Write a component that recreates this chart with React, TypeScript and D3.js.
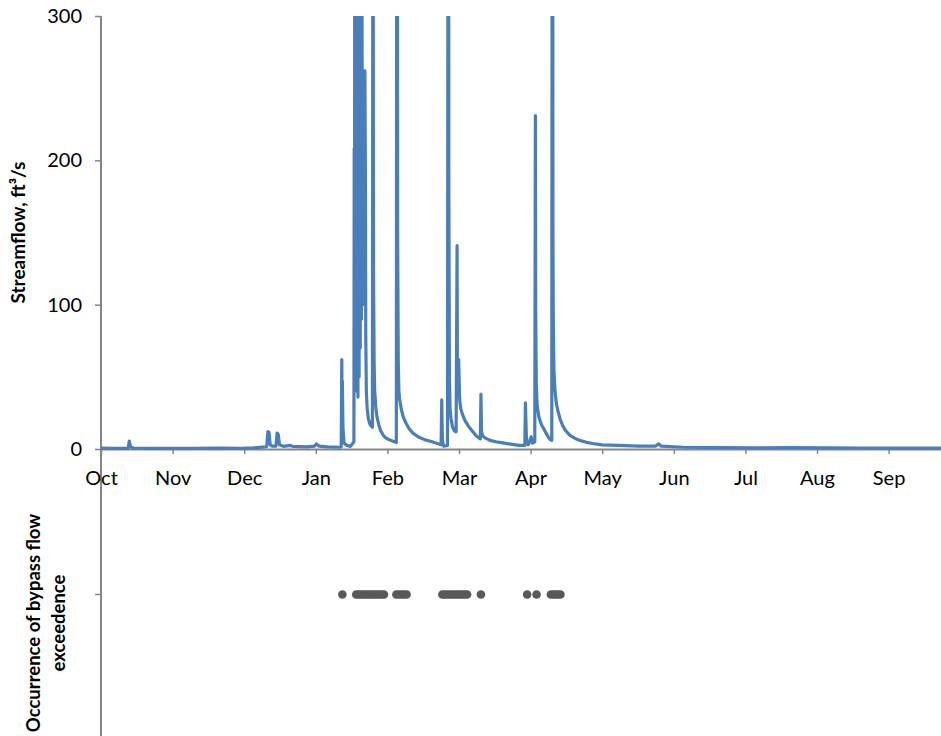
import React, { useEffect, useRef } from 'react';
import * as d3 from 'd3';

// water year Oct 2004 - Sep 2005
const waterYearStart = 2004;
const monthLabels = ['Oct', 'Nov', 'Dec', 'Jan', 'Feb', 'Mar', 'Apr', 'May', 'Jun', 'Jul', 'Aug', 'Sep'];
const flowTicks = [0, 100, 200, 300];

// streamflow, ft3/s (peaks above 300 run off the top of the chart)
const streamflow: [string, number][] = [
    ['2004-10-01 00:00', 0.6],
    ['2004-10-06 00:00', 0.5],
    ['2004-10-12 18:00', 0.5],
    ['2004-10-13 06:00', 5.5],
    ['2004-10-13 18:00', 1.5],
    ['2004-10-15 00:00', 0.7],
    ['2004-10-25 00:00', 0.5],
    ['2004-11-10 00:00', 0.5],
    ['2004-11-20 00:00', 0.7],
    ['2004-11-30 00:00', 0.5],
    ['2004-12-05 00:00', 0.8],
    ['2004-12-10 00:00', 1.5],
    ['2004-12-10 18:00', 1.8],
    ['2004-12-11 06:00', 12],
    ['2004-12-11 18:00', 11.5],
    ['2004-12-12 06:00', 3],
    ['2004-12-13 00:00', 2],
    ['2004-12-14 18:00', 2],
    ['2004-12-15 06:00', 11],
    ['2004-12-15 18:00', 10],
    ['2004-12-16 06:00', 3],
    ['2004-12-18 00:00', 1.8],
    ['2004-12-21 00:00', 2.5],
    ['2004-12-22 00:00', 1.8],
    ['2004-12-28 00:00', 1.5],
    ['2004-12-31 12:00', 2],
    ['2005-01-01 06:00', 3.5],
    ['2005-01-02 12:00', 2],
    ['2005-01-06 00:00', 1.5],
    ['2005-01-11 00:00', 1.2],
    ['2005-01-12 00:00', 1.5],
    ['2005-01-12 06:00', 62],
    ['2005-01-12 09:00', 30],
    ['2005-01-12 12:00', 47],
    ['2005-01-12 18:00', 15],
    ['2005-01-13 06:00', 4],
    ['2005-01-14 12:00', 2.5],
    ['2005-01-16 00:00', 1.8],
    ['2005-01-17 12:00', 5],
    ['2005-01-17 15:00', 208],
    ['2005-01-17 18:00', 60],
    ['2005-01-17 21:00', 400],
    ['2005-01-18 00:00', 120],
    ['2005-01-18 03:00', 700],
    ['2005-01-18 06:00', 45],
    ['2005-01-18 09:00', 600],
    ['2005-01-18 12:00', 80],
    ['2005-01-18 15:00', 900],
    ['2005-01-18 18:00', 40],
    ['2005-01-18 21:00', 500],
    ['2005-01-19 00:00', 60],
    ['2005-01-19 03:00', 800],
    ['2005-01-19 06:00', 36],
    ['2005-01-19 09:00', 650],
    ['2005-01-19 12:00', 90],
    ['2005-01-19 15:00', 700],
    ['2005-01-19 18:00', 50],
    ['2005-01-19 21:00', 540],
    ['2005-01-20 00:00', 120],
    ['2005-01-20 03:00', 600],
    ['2005-01-20 06:00', 70],
    ['2005-01-20 09:00', 450],
    ['2005-01-20 12:00', 100],
    ['2005-01-20 15:00', 520],
    ['2005-01-20 18:00', 90],
    ['2005-01-20 21:00', 420],
    ['2005-01-21 06:00', 100],
    ['2005-01-21 12:00', 262],
    ['2005-01-22 06:00', 262],
    ['2005-01-22 12:00', 181],
    ['2005-01-22 15:00', 80],
    ['2005-01-22 21:00', 40],
    ['2005-01-23 06:00', 28],
    ['2005-01-23 18:00', 21],
    ['2005-01-24 12:00', 17],
    ['2005-01-25 06:00', 15.5],
    ['2005-01-25 12:00', 15],
    ['2005-01-25 18:00', 480],
    ['2005-01-26 00:00', 120],
    ['2005-01-26 06:00', 60],
    ['2005-01-26 12:00', 40],
    ['2005-01-27 00:00', 28],
    ['2005-01-27 12:00', 22],
    ['2005-01-28 06:00', 17],
    ['2005-01-29 00:00', 13],
    ['2005-01-30 00:00', 10],
    ['2005-01-31 00:00', 8],
    ['2005-02-01 12:00', 6.5],
    ['2005-02-03 00:00', 5.5],
    ['2005-02-04 12:00', 4.5],
    ['2005-02-04 18:00', 800],
    ['2005-02-05 00:00', 150],
    ['2005-02-05 06:00', 60],
    ['2005-02-05 12:00', 40],
    ['2005-02-05 18:00', 35],
    ['2005-02-06 00:00', 32],
    ['2005-02-06 12:00', 27],
    ['2005-02-07 06:00', 22],
    ['2005-02-08 06:00', 18],
    ['2005-02-09 12:00', 14],
    ['2005-02-11 00:00', 11],
    ['2005-02-13 00:00', 8.5],
    ['2005-02-15 12:00', 6.5],
    ['2005-02-18 12:00', 5],
    ['2005-02-20 12:00', 3.8],
    ['2005-02-22 00:00', 3],
    ['2005-02-22 06:00', 34],
    ['2005-02-22 12:00', 6],
    ['2005-02-23 00:00', 2],
    ['2005-02-24 12:00', 2.5],
    ['2005-02-24 21:00', 750],
    ['2005-02-25 00:00', 200],
    ['2005-02-25 06:00', 50],
    ['2005-02-25 12:00', 28],
    ['2005-02-25 21:00', 21],
    ['2005-02-26 12:00', 15],
    ['2005-02-27 06:00', 12.5],
    ['2005-02-27 21:00', 12],
    ['2005-02-28 06:00', 141],
    ['2005-02-28 09:00', 40],
    ['2005-02-28 21:00', 62],
    ['2005-03-01 06:00', 35],
    ['2005-03-01 18:00', 28],
    ['2005-03-02 12:00', 24],
    ['2005-03-03 12:00', 20],
    ['2005-03-05 00:00', 16],
    ['2005-03-07 00:00', 12],
    ['2005-03-08 12:00', 9],
    ['2005-03-10 06:00', 7],
    ['2005-03-10 12:00', 38],
    ['2005-03-10 18:00', 12],
    ['2005-03-11 06:00', 9],
    ['2005-03-12 12:00', 7.5],
    ['2005-03-14 12:00', 6],
    ['2005-03-17 00:00', 5],
    ['2005-03-20 00:00', 4.2],
    ['2005-03-24 00:00', 3.2],
    ['2005-03-27 00:00', 2.5],
    ['2005-03-29 12:00', 2.5],
    ['2005-03-29 18:00', 32],
    ['2005-03-30 06:00', 4],
    ['2005-03-31 00:00', 3],
    ['2005-04-01 06:00', 8.5],
    ['2005-04-01 18:00', 4],
    ['2005-04-02 18:00', 5],
    ['2005-04-03 00:00', 231],
    ['2005-04-03 03:00', 100],
    ['2005-04-03 09:00', 45],
    ['2005-04-03 18:00', 30],
    ['2005-04-04 12:00', 22],
    ['2005-04-05 12:00', 17],
    ['2005-04-06 12:00', 14],
    ['2005-04-07 12:00', 11],
    ['2005-04-08 12:00', 8],
    ['2005-04-09 06:00', 6.5],
    ['2005-04-09 21:00', 6],
    ['2005-04-10 03:00', 700],
    ['2005-04-10 09:00', 145],
    ['2005-04-10 12:00', 90],
    ['2005-04-10 18:00', 55],
    ['2005-04-11 06:00', 40],
    ['2005-04-11 18:00', 32],
    ['2005-04-12 12:00', 26],
    ['2005-04-13 12:00', 20],
    ['2005-04-14 12:00', 16],
    ['2005-04-15 18:00', 12.5],
    ['2005-04-17 12:00', 9.5],
    ['2005-04-19 12:00', 7.5],
    ['2005-04-21 12:00', 6],
    ['2005-04-24 00:00', 4.8],
    ['2005-04-27 00:00', 3.8],
    ['2005-05-01 00:00', 2.9],
    ['2005-05-08 00:00', 2.5],
    ['2005-05-17 00:00', 2],
    ['2005-05-24 00:00', 2],
    ['2005-05-25 12:00', 3.5],
    ['2005-05-26 12:00', 2],
    ['2005-06-05 00:00', 1.2],
    ['2005-06-20 00:00', 1],
    ['2005-07-05 00:00', 0.8],
    ['2005-07-20 00:00', 0.9],
    ['2005-08-05 00:00', 0.8],
    ['2005-08-20 00:00', 0.7],
    ['2005-09-05 00:00', 0.6],
    ['2005-09-20 00:00', 0.6],
    ['2005-09-30 23:00', 0.6],
];

// days when the bypass flow was exceeded
const bypassDays = [
    '2005-01-12',
    '2005-01-18', '2005-01-19', '2005-01-20', '2005-01-21', '2005-01-22', '2005-01-23', '2005-01-24',
    '2005-01-25', '2005-01-26', '2005-01-27', '2005-01-28', '2005-01-29', '2005-01-30',
    '2005-02-04', '2005-02-05', '2005-02-06', '2005-02-07', '2005-02-08',
    '2005-02-22', '2005-02-23', '2005-02-24', '2005-02-25', '2005-02-26', '2005-02-27', '2005-02-28',
    '2005-03-01', '2005-03-02', '2005-03-03', '2005-03-04',
    '2005-03-10',
    '2005-03-30',
    '2005-04-03',
    '2005-04-09', '2005-04-10', '2005-04-11', '2005-04-12', '2005-04-13',
];

const parseTime = d3.timeParse('%Y-%m-%d %H:%M');

// months since Oct 1 (every month gets the same width, like the original axis)
const toMonths = (d: Date) => {
    const mi = (d.getFullYear() - waterYearStart) * 12 + d.getMonth() - 9;
    const dim = new Date(d.getFullYear(), d.getMonth() + 1, 0).getDate();
    return mi + (d.getDate() - 1 + d.getHours() / 24 + d.getMinutes() / 1440) / dim;
};

const axisColor = '#868686';

export default function App() {
    const chartRef = useRef<SVGSVGElement>(null);

    useEffect(() => {
        const svg = d3.select(chartRef.current);
        svg.selectAll('*').remove();

        const left = 101, top = 16, zero = 449, bottom = 736;
        const monthWidth = 71.6;

        const x = d3.scaleLinear().domain([0, 12]).range([left, left + 12 * monthWidth]);
        const y = d3.scaleLinear().domain([0, 300]).range([zero, top]);
        const yOcc = d3.scaleLinear().domain([0, 1]).range([740, zero]);

        svg.append('defs')
            .append('clipPath')
            .attr('id', 'plot-clip')
            .append('rect')
            .attr('x', left)
            .attr('y', top)
            .attr('width', 941 - left)
            .attr('height', 470 - top);

        // y axis, streamflow
        const yAxis = svg.append('g')
            .attr('transform', `translate(${left},0)`)
            .call(d3.axisLeft(y).tickValues(flowTicks).tickSize(6).tickSizeOuter(0).tickPadding(13));
        yAxis.select('.domain').remove();
        yAxis.selectAll('.tick line').attr('stroke', axisColor).attr('stroke-width', 1.5);
        yAxis.selectAll('.tick text')
            .attr('font-family', 'Lato, sans-serif')
            .attr('font-size', 20)
            .attr('fill', '#000');

        // occurrence panel tick
        svg.append('line')
            .attr('x1', left - 6).attr('x2', left)
            .attr('y1', yOcc(0.5)).attr('y2', yOcc(0.5))
            .attr('stroke', axisColor).attr('stroke-width', 1.5);

        // full height vertical axis line
        svg.append('line')
            .attr('x1', left).attr('x2', left)
            .attr('y1', top).attr('y2', bottom)
            .attr('stroke', axisColor).attr('stroke-width', 2);

        // x axis
        const xAxis = svg.append('g')
            .attr('transform', `translate(0,${zero})`)
            .call(d3.axisBottom(x)
                .tickValues(d3.range(0, 12))
                .tickFormat(i => monthLabels[i as number])
                .tickSize(5)
                .tickSizeOuter(0));
        xAxis.select('.domain').attr('stroke', axisColor).attr('stroke-width', 2);
        xAxis.selectAll('.tick line').attr('stroke', axisColor).attr('stroke-width', 1.5);
        xAxis.selectAll('.tick text')
            .attr('y', 36)
            .attr('dy', null)
            .attr('font-family', 'Lato, sans-serif')
            .attr('font-size', 20)
            .attr('fill', '#000');

        // streamflow line
        const flowData = streamflow.map(([t, v]) => [toMonths(parseTime(t) as Date), v] as [number, number]);
        svg.append('path')
            .datum(flowData)
            .attr('clip-path', 'url(#plot-clip)')
            .attr('fill', 'none')
            .attr('stroke', '#4a7ebb')
            .attr('stroke-width', 3.2)
            .attr('stroke-linejoin', 'round')
            .attr('d', d3.line<[number, number]>().x(d => x(d[0])).y(d => y(d[1])));

        // bypass flow exceedence markers
        svg.append('g')
            .selectAll('circle')
            .data(bypassDays)
            .enter()
            .append('circle')
            .attr('cx', d => x(toMonths(parseTime(d + ' 12:00') as Date)))
            .attr('cy', yOcc(0.5))
            .attr('r', 4.3)
            .attr('fill', '#595959');

        // axis titles
        svg.append('text')
            .attr('transform', `translate(25,${(top + zero) / 2}) rotate(-90)`)
            .attr('text-anchor', 'middle')
            .attr('font-family', 'Lato, sans-serif')
            .attr('font-weight', 'bold')
            .attr('font-size', 19)
            .text('Streamflow, ft³/s');

        const occTitle = svg.append('text')
            .attr('transform', `translate(40,623) rotate(-90)`)
            .attr('text-anchor', 'middle')
            .attr('font-family', 'Lato, sans-serif')
            .attr('font-weight', 'bold')
            .attr('font-size', 18.5);
        occTitle.append('tspan').attr('x', 0).attr('dy', 0).text('Occurrence of bypass flow');
        occTitle.append('tspan').attr('x', 0).attr('dy', 24.5).text('exceedence');
    }, []);

    return (
        <svg
            ref={chartRef}
            width={941}
            height={736}
            style={{ position: 'absolute', left: 0, top: 0, background: '#fff' }}
        />
    );
}
